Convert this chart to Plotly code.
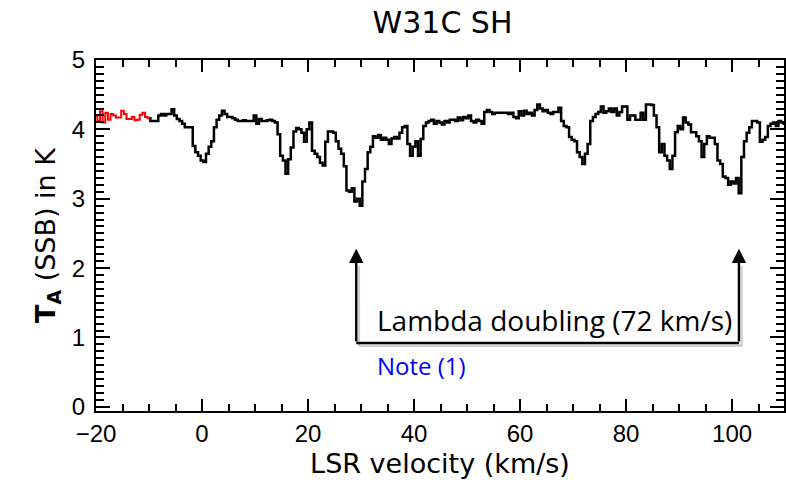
import plotly.graph_objects as go

# ---------------- data ----------------
V_START = -20.0      # km/s, first channel
V_STEP = 0.5         # km/s, channel width
RED_END = -10.0      # channels up to here drawn in red

ta_k = [
    # -20 .. -10.5
    4.20, 4.12, 4.26, 4.10, 4.24, 4.14, 4.22, 4.20, 4.17, 4.17, 4.27, 4.22, 4.15, 4.15, 4.18, 4.13, 4.14, 4.21, 4.24, 4.18,
    # -10 .. -0.5
    4.16, 4.12, 4.12, 4.12, 4.20, 4.22, 4.20, 4.22, 4.22, 4.29, 4.20, 4.15, 4.12, 4.08, 4.03, 4.03, 4.03, 3.76, 3.67, 3.62,
    # 0 .. 9.5
    3.55, 3.53, 3.65, 3.75, 3.83, 4.03, 4.14, 4.20, 4.27, 4.22, 4.18, 4.18, 4.16, 4.14, 4.12, 4.12, 4.13, 4.12, 4.12, 4.12,
    # 10 .. 19.5
    4.20, 4.08, 4.15, 4.12, 4.12, 4.13, 4.14, 4.12, 4.10, 3.93, 3.62, 3.55, 3.36, 3.57, 3.74, 3.97, 4.02, 4.00, 3.95, 3.82,
    # 20 .. 29.5
    4.00, 4.10, 3.69, 3.65, 3.60, 3.52, 3.48, 3.82, 3.97, 3.97, 3.95, 3.83, 3.72, 3.65, 3.47, 3.12, 3.10, 3.15, 2.96, 3.00,
    # 30 .. 39.5
    2.90, 3.25, 3.43, 3.67, 3.75, 3.90, 3.88, 3.92, 3.85, 3.88, 3.85, 3.79, 3.87, 3.89, 3.87, 3.95, 4.03, 4.05, 3.79, 3.62,
    # 40 .. 49.5
    3.75, 3.83, 3.62, 3.86, 4.05, 4.10, 4.12, 4.14, 4.08, 4.12, 4.10, 4.07, 4.12, 4.10, 4.14, 4.14, 4.12, 4.17, 4.13, 4.18,
    # 50 .. 59.5
    4.16, 4.20, 4.12, 4.10, 4.14, 4.12, 4.08, 4.25, 4.28, 4.25, 4.22, 4.24, 4.24, 4.24, 4.24, 4.24, 4.22, 4.24, 4.18, 4.16,
    # 60 .. 69.5
    4.26, 4.20, 4.27, 4.22, 4.24, 4.20, 4.28, 4.36, 4.30, 4.26, 4.28, 4.24, 4.22, 4.25, 4.25, 4.31, 4.12, 4.05, 4.03, 3.89,
    # 70 .. 79.5
    3.85, 3.83, 3.67, 3.60, 3.50, 3.65, 3.79, 4.12, 4.18, 4.22, 4.25, 4.33, 4.24, 4.26, 4.30, 4.25, 4.30, 4.20, 4.25, 4.33,
    # 80 .. 89.5
    4.33, 4.14, 4.20, 4.20, 4.14, 4.14, 4.24, 4.14, 4.36, 4.36, 4.35, 4.20, 4.03, 3.67, 3.79, 3.62, 3.55, 3.43, 3.62, 3.96,
    # 90 .. 99.5
    4.05, 4.00, 4.17, 4.10, 4.07, 3.96, 3.96, 3.90, 3.83, 3.60, 3.79, 3.90, 3.88, 3.88, 3.79, 3.55, 3.50, 3.32, 3.30, 3.20,
    # 100 .. 109.5
    3.25, 3.22, 3.30, 3.08, 3.60, 3.83, 3.95, 4.03, 4.12, 4.12, 4.10, 3.82, 3.85, 3.89, 4.05, 4.08, 4.10, 4.05, 4.12, 4.10,
    # 110
    4.08,
]

x_range = [-20, 109.8]
y_range = [-0.06, 5.0]
x_major, x_minor = 20, 5
y_major, y_minor = 1, 0.1

# Lambda-doubling pair (two components 72 km/s apart)
lambda_v = [29.1, 101.3]
bracket_y = 0.92
arrow_top = 2.28
label_v = 32.7
label_y = 1.25
note_y = 0.60

title_text = "W31C SH"
x_title = "LSR velocity (km/s)"
y_title = "<b>T<sub>A</sub></b> (SSB) in K"
label_text = "Lambda doubling (72 km/s)"
note_text = "Note (1)"

TICK_COL = "black"

# ---------------- figure ----------------
velocity = [V_START + V_STEP * i for i in range(len(ta_k))]
split = velocity.index(RED_END)

fig = go.Figure()
fig.add_trace(go.Scatter(x=velocity[:split + 1], y=ta_k[:split + 1], mode="lines",
                         line=dict(color="#ff0000", width=2, shape="hvh"), showlegend=False))
fig.add_trace(go.Scatter(x=velocity[split:], y=ta_k[split:], mode="lines",
                         line=dict(color="black", width=2.5, shape="hvh"), showlegend=False))

for dx, dy, col in [(0.5, -0.04, "rgba(0,0,0,0.18)"), (0, 0, "black")]:
    fig.add_shape(type="line", xref="x", yref="y",
                  x0=lambda_v[0] + dx, x1=lambda_v[1] + dx, y0=bracket_y + dy, y1=bracket_y + dy,
                  line=dict(color=col, width=2.5))
for v in lambda_v:
    fig.add_shape(type="line", xref="x", yref="y", x0=v + 0.5, x1=v + 0.5,
                  y0=bracket_y - 0.04, y1=arrow_top - 0.25, line=dict(color="rgba(0,0,0,0.18)", width=2.5))
    fig.add_annotation(x=v, y=arrow_top, ax=v, ay=bracket_y, xref="x", yref="y", axref="x", ayref="y",
                       showarrow=True, arrowhead=2, arrowsize=1.2, arrowwidth=2.4, arrowcolor="black", text="")

fig.add_annotation(x=label_v, y=label_y, xref="x", yref="y", text=label_text, showarrow=False,
                   xanchor="left", yanchor="middle", font=dict(family="Open Sans", size=28, color="black"))
fig.add_annotation(x=label_v, y=note_y, xref="x", yref="y", text=note_text, showarrow=False,
                   xanchor="left", yanchor="middle", font=dict(family="Open Sans", size=24, color="#0000ff"))

fig.update_layout(
    width=786, height=497,
    margin=dict(l=96, r=0, t=60, b=86),
    paper_bgcolor="white", plot_bgcolor="white",
    title=dict(text=title_text, x=0.563, xanchor="center", y=1 - 22 / 497, yanchor="middle",
               font=dict(family="DejaVu Sans", size=30, color="black")),
)
fig.update_xaxes(range=x_range, tickmode="linear", tick0=0, dtick=x_major,
                 ticks="inside", ticklen=12, tickwidth=2, tickcolor=TICK_COL,
                 showline=True, linecolor="black", linewidth=2, mirror="ticks",
                 showgrid=False, zeroline=False,
                 minor=dict(dtick=x_minor, ticklen=7, ticks="inside", tickcolor=TICK_COL, tickwidth=2),
                 tickfont=dict(family="Liberation Sans", size=24, color="black"),
                 title=dict(text=x_title, font=dict(family="DejaVu Sans", size=27, color="black"), standoff=8))
fig.update_yaxes(range=y_range, tickmode="linear", tick0=0, dtick=y_major,
                 ticks="inside", ticklen=14, tickwidth=2, tickcolor=TICK_COL,
                 showline=True, linecolor="black", linewidth=2, mirror="ticks",
                 showgrid=False, zeroline=False, ticklabelstandoff=4,
                 minor=dict(dtick=y_minor, ticklen=8, ticks="inside", tickcolor=TICK_COL, tickwidth=2),
                 tickfont=dict(family="Liberation Sans", size=24, color="black"),
                 title=dict(text=y_title, font=dict(family="DejaVu Sans", size=27, color="black"), standoff=8))

fig.write_html("out.html")
